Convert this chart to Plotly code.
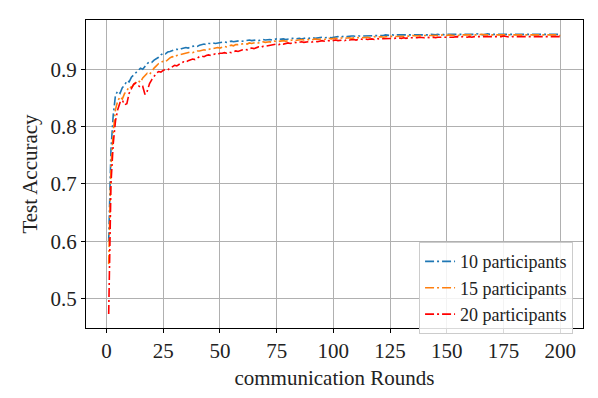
import plotly.graph_objects as go

rounds = list(range(1, 201))

acc_10 = [
    0.600, 0.760, 0.820, 0.855, 0.862, 0.858, 0.868, 0.872, 0.880, 0.878,
    0.886, 0.890, 0.893, 0.897, 0.902, 0.900, 0.906, 0.910, 0.913, 0.912,
    0.916, 0.918, 0.921, 0.925, 0.928, 0.927, 0.930, 0.931, 0.933, 0.934,
    0.935, 0.934, 0.936, 0.937, 0.938, 0.937, 0.939, 0.940, 0.941, 0.940,
    0.942, 0.943, 0.944, 0.943, 0.945, 0.945, 0.946, 0.945, 0.946, 0.947,
    0.947, 0.948, 0.947, 0.948, 0.949, 0.948, 0.949, 0.949, 0.950, 0.949,
    0.950, 0.950, 0.951, 0.950, 0.951, 0.951, 0.950, 0.951, 0.952, 0.951,
    0.952, 0.952, 0.951, 0.952, 0.953, 0.952, 0.953, 0.953, 0.952, 0.953,
    0.953, 0.954, 0.953, 0.954, 0.954, 0.953, 0.954, 0.955, 0.954, 0.955,
    0.955, 0.954, 0.955, 0.955, 0.956, 0.955, 0.956, 0.956, 0.955, 0.956,
    0.957, 0.957, 0.956, 0.957, 0.958, 0.957, 0.958, 0.958, 0.958, 0.957,
    0.958, 0.958, 0.959, 0.958, 0.958, 0.959, 0.959, 0.959, 0.958, 0.959,
    0.959, 0.959, 0.960, 0.959, 0.959, 0.960, 0.959, 0.960, 0.960, 0.959,
    0.959, 0.960, 0.959, 0.960, 0.960, 0.959, 0.960, 0.960, 0.959, 0.960,
    0.960, 0.960, 0.961, 0.960, 0.960, 0.961, 0.960, 0.961, 0.960, 0.961,
    0.961, 0.960, 0.961, 0.961, 0.960, 0.961, 0.961, 0.961, 0.960, 0.961,
    0.961, 0.961, 0.962, 0.961, 0.961, 0.960, 0.961, 0.962, 0.961, 0.961,
    0.961, 0.962, 0.961, 0.961, 0.962, 0.961, 0.961, 0.962, 0.961, 0.962,
    0.961, 0.962, 0.962, 0.961, 0.962, 0.962, 0.961, 0.962, 0.962, 0.961,
    0.962, 0.962, 0.961, 0.962, 0.962, 0.961, 0.962, 0.961, 0.961, 0.960,
]

acc_15 = [
    0.560, 0.730, 0.790, 0.830, 0.845, 0.852, 0.848, 0.858, 0.862, 0.870,
    0.868, 0.874, 0.878, 0.880, 0.877, 0.885, 0.889, 0.893, 0.891, 0.897,
    0.902, 0.906, 0.910, 0.912, 0.914, 0.913, 0.917, 0.920, 0.922, 0.921,
    0.924, 0.925, 0.926, 0.927, 0.928, 0.929, 0.930, 0.929, 0.931, 0.932,
    0.932, 0.933, 0.934, 0.933, 0.935, 0.936, 0.936, 0.937, 0.938, 0.937,
    0.939, 0.940, 0.939, 0.941, 0.942, 0.941, 0.943, 0.943, 0.944, 0.944,
    0.945, 0.944, 0.946, 0.945, 0.946, 0.947, 0.946, 0.947, 0.948, 0.947,
    0.948, 0.948, 0.947, 0.949, 0.948, 0.949, 0.949, 0.950, 0.949, 0.950,
    0.950, 0.951, 0.950, 0.951, 0.951, 0.952, 0.951, 0.952, 0.952, 0.951,
    0.952, 0.953, 0.952, 0.953, 0.953, 0.952, 0.953, 0.954, 0.953, 0.954,
    0.954, 0.953, 0.954, 0.955, 0.954, 0.955, 0.955, 0.954, 0.955, 0.956,
    0.955, 0.956, 0.955, 0.956, 0.956, 0.955, 0.956, 0.957, 0.956, 0.957,
    0.957, 0.956, 0.957, 0.957, 0.958, 0.957, 0.957, 0.958, 0.957, 0.958,
    0.958, 0.957, 0.958, 0.958, 0.959, 0.958, 0.958, 0.959, 0.958, 0.959,
    0.959, 0.958, 0.959, 0.959, 0.958, 0.959, 0.959, 0.960, 0.959, 0.959,
    0.960, 0.959, 0.959, 0.960, 0.959, 0.960, 0.960, 0.959, 0.960, 0.960,
    0.960, 0.959, 0.960, 0.960, 0.961, 0.960, 0.960, 0.960, 0.959, 0.960,
    0.960, 0.961, 0.960, 0.960, 0.961, 0.960, 0.960, 0.961, 0.960, 0.960,
    0.961, 0.960, 0.960, 0.961, 0.960, 0.961, 0.960, 0.960, 0.961, 0.960,
    0.960, 0.961, 0.960, 0.960, 0.961, 0.960, 0.960, 0.960, 0.959, 0.959,
]

acc_20 = [
    0.473, 0.700, 0.770, 0.810, 0.830, 0.842, 0.846, 0.838, 0.840, 0.858,
    0.866, 0.874, 0.876, 0.872, 0.868, 0.870, 0.856, 0.862, 0.875, 0.882,
    0.888, 0.893, 0.896, 0.895, 0.898, 0.900, 0.899, 0.902, 0.905, 0.907,
    0.906, 0.909, 0.911, 0.913, 0.912, 0.915, 0.916, 0.918, 0.917, 0.920,
    0.922, 0.923, 0.922, 0.924, 0.925, 0.924, 0.926, 0.927, 0.926, 0.928,
    0.928, 0.929, 0.928, 0.930, 0.929, 0.931, 0.932, 0.931, 0.933, 0.934,
    0.935, 0.934, 0.936, 0.937, 0.936, 0.938, 0.939, 0.938, 0.940, 0.940,
    0.941, 0.942, 0.943, 0.943, 0.944, 0.943, 0.945, 0.944, 0.945, 0.946,
    0.945, 0.946, 0.947, 0.946, 0.947, 0.948, 0.947, 0.948, 0.948, 0.947,
    0.948, 0.949, 0.948, 0.949, 0.950, 0.949, 0.950, 0.950, 0.949, 0.950,
    0.951, 0.950, 0.951, 0.951, 0.950, 0.952, 0.951, 0.952, 0.952, 0.951,
    0.952, 0.953, 0.952, 0.953, 0.952, 0.953, 0.953, 0.952, 0.954, 0.953,
    0.953, 0.954, 0.953, 0.954, 0.954, 0.953, 0.954, 0.955, 0.954, 0.954,
    0.955, 0.954, 0.955, 0.955, 0.954, 0.955, 0.955, 0.956, 0.955, 0.955,
    0.956, 0.955, 0.955, 0.956, 0.955, 0.956, 0.956, 0.955, 0.956, 0.956,
    0.956, 0.955, 0.956, 0.957, 0.956, 0.956, 0.957, 0.956, 0.956, 0.957,
    0.956, 0.957, 0.957, 0.956, 0.957, 0.957, 0.956, 0.957, 0.957, 0.956,
    0.957, 0.957, 0.956, 0.957, 0.958, 0.957, 0.957, 0.956, 0.957, 0.957,
    0.958, 0.957, 0.957, 0.958, 0.957, 0.957, 0.958, 0.957, 0.957, 0.958,
    0.957, 0.958, 0.957, 0.957, 0.958, 0.957, 0.958, 0.957, 0.957, 0.957,
]

series_names = ["10 participants", "15 participants", "20 participants"]
series_colors = ["#1f77b4", "#ff7f0e", "#ff0000"]
series_values = [acc_10, acc_15, acc_20]

x_ticks = [0, 25, 50, 75, 100, 125, 150, 175, 200]
y_ticks = [0.5, 0.6, 0.7, 0.8, 0.9]

FONT = "Liberation Serif, Times New Roman, serif"

fig = go.Figure()
for name, color, vals in zip(series_names, series_colors, series_values):
    fig.add_trace(go.Scatter(
        x=rounds, y=vals, mode="lines", name=name,
        line=dict(color=color, width=1.6, dash="9px,3px,2px,3px"),
    ))

axis_common = dict(
    showgrid=True, gridcolor="#b0b0b0", gridwidth=1,
    showline=True, linecolor="black", linewidth=1.2, mirror=True,
    ticks="outside", ticklen=4, tickwidth=1, tickcolor="black",
    zeroline=False,
    tickfont=dict(family=FONT, size=21, color="#222"),
)

fig.update_xaxes(
    range=[-9, 210], tickvals=x_ticks, ticktext=[str(t) for t in x_ticks],
    title=dict(text="communication Rounds", font=dict(family=FONT, size=21, color="#222"), standoff=8),
    **axis_common,
)
fig.update_yaxes(
    range=[0.4485, 0.986], tickvals=y_ticks, ticktext=[f"{t:.1f}" for t in y_ticks],
    title=dict(text="Test Accuracy", font=dict(family=FONT, size=21, color="#222"), standoff=7),
    **axis_common,
)

fig.update_layout(
    width=598, height=398,
    margin=dict(l=86, r=15, t=20, b=59),
    plot_bgcolor="white", paper_bgcolor="white",
    font=dict(family=FONT, size=18, color="#222"),
    legend=dict(
        x=0.98, y=-0.02, xanchor="right", yanchor="bottom",
        bgcolor="rgba(255,255,255,0.85)", bordercolor="#cccccc", borderwidth=1,
        font=dict(family=FONT, size=18, color="#222"),
        tracegroupgap=0, itemwidth=30,
    ),
    showlegend=True,
)

fig.write_html(
    "out.html",
    config={"displayModeBar": False},
    post_script="document.body.style.margin='0';",
)
